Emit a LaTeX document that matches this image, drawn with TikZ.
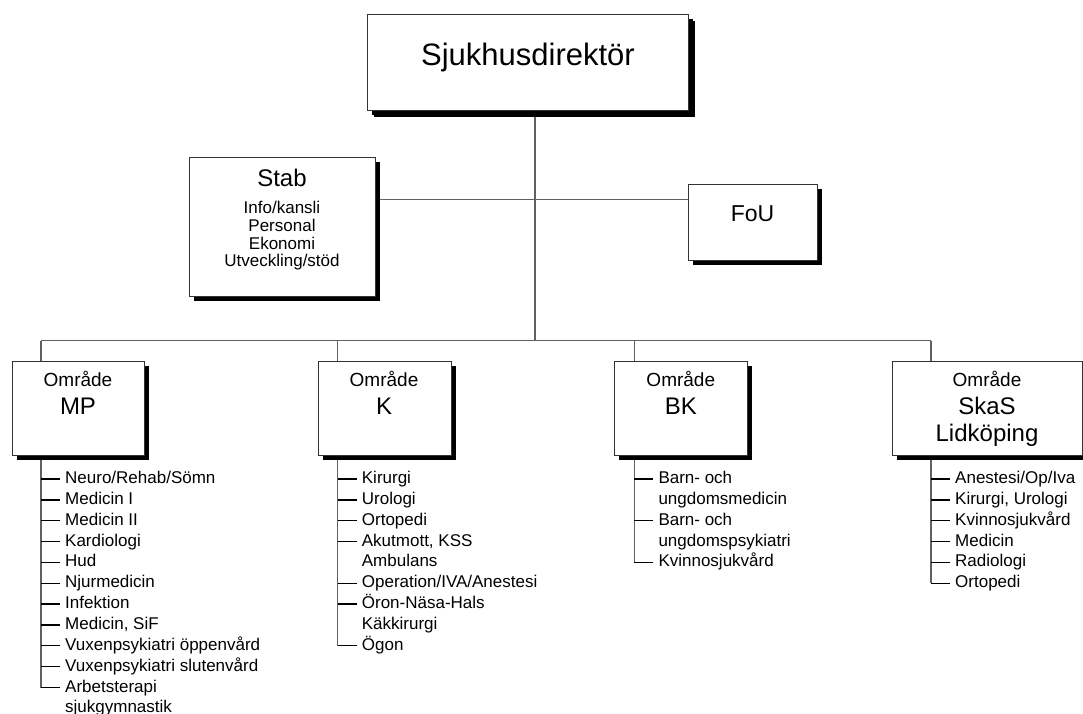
\documentclass[tikz,border=0pt]{standalone}
\usepackage{fontspec}
\setmainfont{Liberation Sans}
\usetikzlibrary{shadows,backgrounds}
\newcommand\orgitem[4]{% #1 name, #2 x of vertical line, #3 row index, #4 text
  \node[itemtext] (#1) at ({#2+24},{483.5+20.85*#3}) {#4};
  \coordinate (#1t) at (#2,{479+20.85*#3});
  \draw[tick] (#1t) -- ++(19,0);
}
\newcommand\orgcont[4]{% continuation line without dash
  \node[itemtext] (#1) at ({#2+24},{483.5+20.85*#3}) {#4};
}
\begin{document}
\begin{tikzpicture}[x=1pt,y=-1pt,
  box/.style={draw=black!80, line width=0.9pt, fill=white, inner sep=0pt,
    drop shadow={shadow xshift=5pt,shadow yshift=-5pt,opacity=1,fill=black}},
  topbox/.style={box, drop shadow={shadow xshift=6.5pt,shadow yshift=-6.5pt,opacity=1,fill=black}},
  conn/.style={draw=black!62, line width=1.1pt},
  tick/.style={draw=black, line width=1.3pt},
  itemtext/.style={inner sep=0pt, anchor=base west, font=\fontsize{17}{20}\selectfont},
  bigtext/.style={inner sep=0pt, anchor=base, font=\fontsize{24}{28}\selectfont},
  areatext/.style={inner sep=0pt, anchor=base, font=\fontsize{19}{22}\selectfont},
  stabtext/.style={inner sep=0pt, anchor=base, font=\fontsize{17}{20}\selectfont},
]
\useasboundingbox (0,0) rectangle (1083,713);

% ---------- boxes ----------
\node[topbox, minimum width=321pt, minimum height=96pt] (top) at (527.5,62) {};
\node[box, minimum width=186pt, minimum height=139pt] (stab) at (282,226.5) {};
\node[box, minimum width=129pt, minimum height=76pt] (fou) at (752.5,222) {};
\node[box, minimum width=132pt, minimum height=94pt] (mp) at (78,408) {};
\node[box, minimum width=133pt, minimum height=94pt] (k) at (384.5,408) {};
\node[box, minimum width=133pt, minimum height=94pt] (bk) at (680.5,408) {};
\node[box, minimum width=190pt, minimum height=94pt] (skas) at (987,408) {};

% ---------- box texts ----------
\node[inner sep=0pt, anchor=base, font=\fontsize{31}{36}\selectfont] (toptext) at (528,65.5) {Sjukhusdirektör};
\node[bigtext] (stabtitle) at (282,186.7) {Stab};
\node[stabtext] (stab1) at (282,213.5) {Info/kansli};
\node[stabtext] (stab2) at (282,231.3) {Personal};
\node[stabtext] (stab3) at (282,249.1) {Ekonomi};
\node[stabtext] (stab4) at (282,266.9) {Utveckling/stöd};
\node[inner sep=0pt, anchor=base, font=\fontsize{23}{27}\selectfont] (foutext) at (752.5,221) {FoU};

\node[areatext] (mpa) at (78,386.8) {Område};
\node[bigtext] (mpb) at (78,414.6) {MP};
\node[areatext] (ka) at (384,386.8) {Område};
\node[bigtext] (kb) at (384,414.6) {K};
\node[areatext] (bka) at (680.8,386.8) {Område};
\node[bigtext] (bkb) at (680.8,414.6) {BK};
\node[areatext] (skasa) at (987,386.8) {Område};
\node[bigtext] (skasb) at (987,414.6) {SkaS};
\node[bigtext] (skasc) at (987,441.6) {Lidköping};

% ---------- coordinates ----------
\coordinate (bus) at (535,340.5);
\coordinate (sl) at (535,199.5);
\coordinate (d1) at (41,340.5);
\coordinate (d2) at (337.7,340.5);
\coordinate (d3) at (634.3,340.5);
\coordinate (d4) at (931,340.5);

% ---------- lists ----------
\orgitem{mp0}{41}{0}{Neuro/Rehab/Sömn}
\orgitem{mp1}{41}{1}{Medicin I}
\orgitem{mp2}{41}{2}{Medicin II}
\orgitem{mp3}{41}{3}{Kardiologi}
\orgitem{mp4}{41}{4}{Hud}
\orgitem{mp5}{41}{5}{Njurmedicin}
\orgitem{mp6}{41}{6}{Infektion}
\orgitem{mp7}{41}{7}{Medicin, SiF}
\orgitem{mp8}{41}{8}{Vuxenpsykiatri öppenvård}
\orgitem{mp9}{41}{9}{Vuxenpsykiatri slutenvård}
\orgitem{mp10}{41}{10}{Arbetsterapi}
\orgcont{mp11}{41}{11}{sjukgymnastik}

\orgitem{k0}{337.7}{0}{Kirurgi}
\orgitem{k1}{337.7}{1}{Urologi}
\orgitem{k2}{337.7}{2}{Ortopedi}
\orgitem{k3}{337.7}{3}{Akutmott, KSS}
\orgcont{k4}{337.7}{4}{Ambulans}
\orgitem{k5}{337.7}{5}{Operation/IVA/Anestesi}
\orgitem{k6}{337.7}{6}{Öron-Näsa-Hals}
\orgcont{k7}{337.7}{7}{Käkkirurgi}
\orgitem{k8}{337.7}{8}{Ögon}

\orgitem{bk0}{634.3}{0}{Barn- och}
\orgcont{bk1}{634.3}{1}{ungdomsmedicin}
\orgitem{bk2}{634.3}{2}{Barn- och}
\orgcont{bk3}{634.3}{3}{ungdomspsykiatri}
\orgitem{bk4}{634.3}{4}{Kvinnosjukvård}

\orgitem{s0}{931}{0}{Anestesi/Op/Iva}
\orgitem{s1}{931}{1}{Kirurgi, Urologi}
\orgitem{s2}{931}{2}{Kvinnosjukvård}
\orgitem{s3}{931}{3}{Medicin}
\orgitem{s4}{931}{4}{Radiologi}
\orgitem{s5}{931}{5}{Ortopedi}

% ---------- connectors ----------
\begin{pgfonlayer}{background}
  \draw[conn] (top.south -| bus) -- (bus);
  \draw[conn] (stab.east |- sl) -- (fou.west |- sl);
  \draw[conn] (d1) -- (d4);
  \draw[conn] (d1) -- (d1 |- mp.north);
  \draw[conn] (d2) -- (d2 |- k.north);
  \draw[conn] (d3) -- (d3 |- bk.north);
  \draw[conn] (d4) -- (d4 |- skas.north);
  \draw[conn] (d1 |- mp.south) -- (mp10t);
  \draw[conn] (d2 |- k.south) -- (k8t);
  \draw[conn] (d3 |- bk.south) -- (bk4t);
  \draw[conn] (d4 |- skas.south) -- (s5t);
\end{pgfonlayer}
\end{tikzpicture}
\end{document}
